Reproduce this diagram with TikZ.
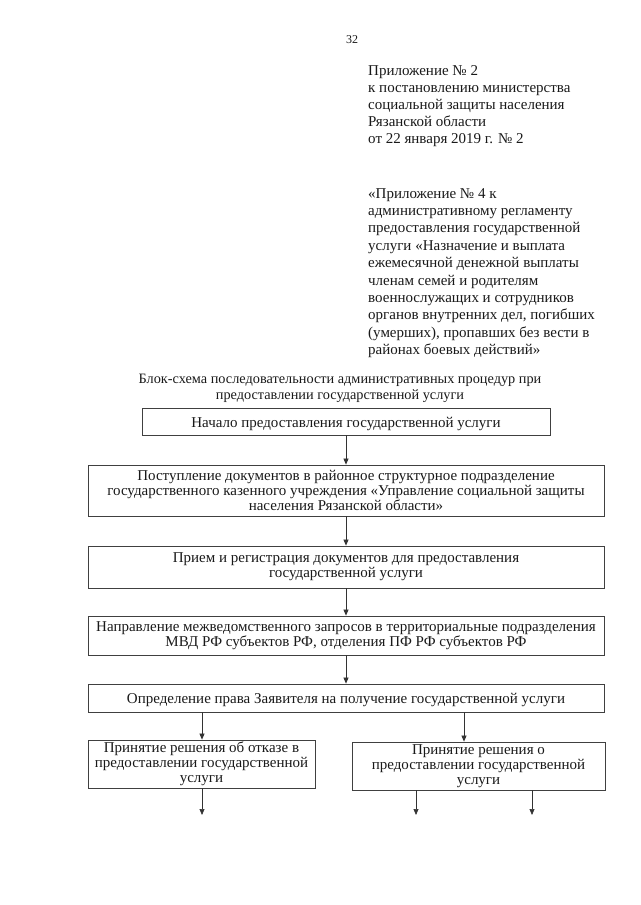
\documentclass[tikz,border=0pt]{standalone}
\usepackage{fontspec}
\setmainfont{Liberation Serif}
\usetikzlibrary{arrows.meta}
\begin{document}
\begin{tikzpicture}[x=1pt,y=-1pt,
  box/.style={draw=black!75, line width=0.8pt, inner sep=0pt, align=center,
    font=\fontsize{15}{15}\selectfont, text=black!90,
    execute at begin node={\rule{0pt}{14.5pt}}},
  arr/.style={draw=black!80, line width=0.7pt, -{Triangle[length=6pt,width=5pt]}},
  plain/.style={inner sep=0pt, text=black!90}]
\useasboundingbox (0,0) rectangle (640,905);
\node[plain, font=\fontsize{12}{13}\selectfont] (pg) at (352,40) {32};
\node[plain, anchor=north west, align=left, font=\fontsize{15}{17.2}\selectfont] (hd1) at (368,65)
 {Приложение № 2\\к постановлению министерства\\социальной защиты населения\\Рязанской области\\от 22 января 2019 г. № 2};
\node[plain, anchor=north west, align=left, font=\fontsize{15}{17.4}\selectfont] (hd2) at (368,188)
 {«Приложение № 4 к\\административному регламенту\\предоставления государственной\\услуги «Назначение и выплата\\ежемесячной денежной выплаты\\членам семей и родителям\\военнослужащих и сотрудников\\органов внутренних дел, погибших\\(умерших), пропавших без вести в\\районах боевых действий»};
\node[plain, align=center, font=\fontsize{14.3}{16}\selectfont] (ttl) at (340,388)
 {Блок-схема последовательности административных процедур при\\предоставлении государственной услуги};
\node[box, minimum width=408pt, minimum height=27pt] (b1) at (346,421.5)
 {Начало предоставления государственной услуги};
\node[box, minimum width=516pt, minimum height=51pt] (b2) at (346,490.5)
 {Поступление документов в районное структурное подразделение\\государственного казенного учреждения «Управление социальной защиты\\населения Рязанской области»};
\node[box, minimum width=516pt, minimum height=42pt] (b3) at (346,567)
 {Прием и регистрация документов для предоставления\\государственной услуги};
\node[box, minimum width=516pt, minimum height=39pt] (b4) at (346,635.5)
 {Направление межведомственного запросов в территориальные подразделения\\МВД РФ субъектов РФ, отделения ПФ РФ субъектов РФ};
\node[box, minimum width=516pt, minimum height=28pt] (b5) at (346,698)
 {Определение права Заявителя на получение государственной услуги};
\node[box, minimum width=227pt, minimum height=48pt] (b6) at (201.5,764)
 {Принятие решения об отказе в\\предоставлении государственной\\услуги};
\node[box, minimum width=253pt, minimum height=48pt] (b7) at (478.5,766)
 {Принятие решения о\\предоставлении государственной\\услуги};
\coordinate (e1) at (202,815);
\coordinate (e2) at (416,815);
\coordinate (e3) at (532,815);
\draw[arr] (b1.south) -- (b2.north);
\draw[arr] (b2.south) -- (b3.north);
\draw[arr] (b3.south) -- (b4.north);
\draw[arr] (b4.south) -- (b5.north);
\draw[arr] (202,0 |- b5.south) -- (202,0 |- b6.north);
\draw[arr] (464,0 |- b5.south) -- (464,0 |- b7.north);
\draw[arr] (b6.south -| e1) -- (e1);
\draw[arr] (b7.south -| e2) -- (e2);
\draw[arr] (b7.south -| e3) -- (e3);
\end{tikzpicture}
\end{document}
